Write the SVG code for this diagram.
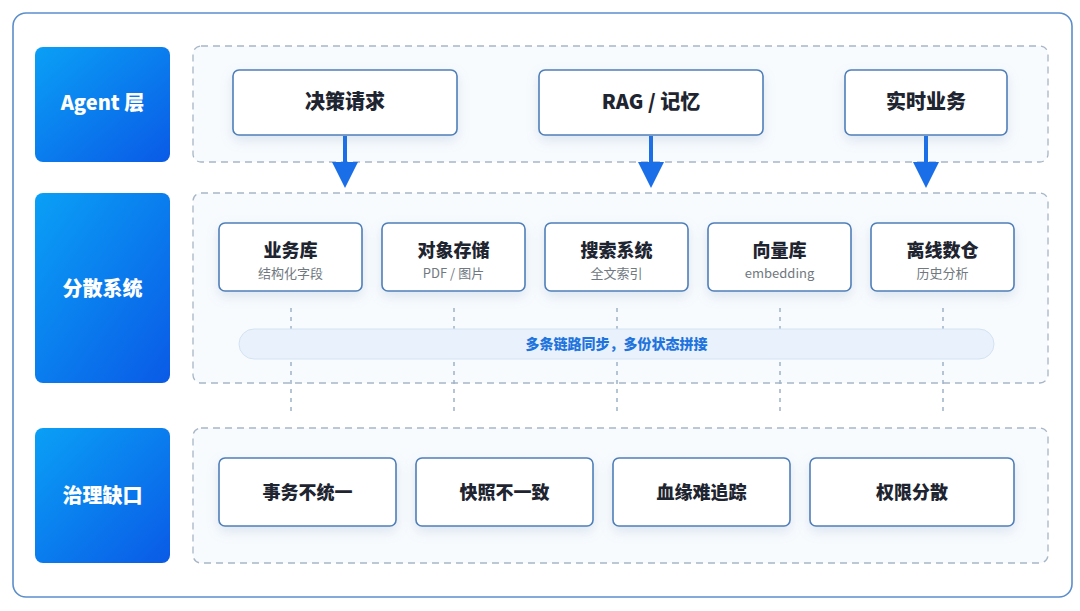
<svg xmlns="http://www.w3.org/2000/svg" width="1080" height="611" viewBox="0 0 1080 611">
<defs>
<linearGradient id="lab" x1="0" y1="0" x2="1" y2="1">
<stop offset="0" stop-color="#0aa0f6"/>
<stop offset="1" stop-color="#0a5ae6"/>
</linearGradient>
<filter id="sh" x="-20%" y="-30%" width="140%" height="170%">
<feDropShadow dx="0" dy="5" stdDeviation="6" flood-color="#5a7fb0" flood-opacity="0.18"/>
</filter>
</defs>
<style>
.lab{fill:url(#lab);}
.labt{font-family:"Noto Sans CJK SC","Noto Sans",sans-serif;font-weight:900;font-size:20px;fill:#fff;text-anchor:middle;dominant-baseline:central;}
.cont{fill:#f8fbfe;stroke:#a7b6c6;stroke-width:1.3;stroke-dasharray:7 5;}
.node{fill:#fff;stroke:#4f7fb8;stroke-width:1.6;filter:url(#sh);}
.t{font-family:"Noto Sans CJK SC","Noto Sans",sans-serif;font-weight:900;fill:#1e2530;text-anchor:middle;dominant-baseline:central;}
.t1{font-size:20px;}
.t2{font-size:18px;}
.sub{font-family:"Noto Sans CJK SC","Noto Sans",sans-serif;font-size:13px;fill:#707880;text-anchor:middle;dominant-baseline:central;}
.arr{stroke:#1a6fe8;stroke-width:4;fill:none;}
.ah{fill:#1a6fe8;}
.dot{stroke:#9fb3c8;stroke-width:1.5;stroke-dasharray:4 5;fill:none;}
</style>
<rect x="0" y="0" width="1080" height="611" fill="#ffffff"/>
<rect x="13" y="13" width="1059" height="584" rx="13" fill="#ffffff" stroke="#5b8ecb" stroke-width="1.6"/>

<g id="containers">
<rect class="cont" x="193" y="46" width="855" height="116" rx="8"/>
<rect class="cont" x="193" y="193" width="855" height="190" rx="8"/>
<rect class="cont" x="193" y="428" width="855" height="135" rx="8"/>
</g>

<g id="label-agent"><rect class="lab" x="35" y="47" width="135" height="115" rx="8"/><text class="labt" x="102.5" y="101">Agent 层</text></g>
<g id="label-dist"><rect class="lab" x="35" y="193" width="135" height="190" rx="8"/><text class="labt" x="102.5" y="287">分散系统</text></g>
<g id="label-gov"><rect class="lab" x="35" y="428" width="135" height="135" rx="8"/><text class="labt" x="102.5" y="494">治理缺口</text></g>

<g id="connectors">
<line class="dot" x1="291" y1="308" x2="291" y2="416"/>
<line class="dot" x1="454" y1="308" x2="454" y2="416"/>
<line class="dot" x1="617" y1="308" x2="617" y2="416"/>
<line class="dot" x1="780" y1="308" x2="780" y2="416"/>
<line class="dot" x1="943" y1="308" x2="943" y2="416"/>
<line class="arr" x1="345" y1="136" x2="345" y2="164"/>
<polygon class="ah" points="332,162 358,162 345,188"/>
<line class="arr" x1="651" y1="136" x2="651" y2="164"/>
<polygon class="ah" points="638,162 664,162 651,188"/>
<line class="arr" x1="926" y1="136" x2="926" y2="164"/>
<polygon class="ah" points="913,162 939,162 926,188"/>
</g>

<g id="n-decision"><rect class="node" x="233" y="70" width="224" height="65" rx="6"/><text class="t t1" x="345" y="100">决策请求</text></g>
<g id="n-rag"><rect class="node" x="539" y="70" width="224" height="65" rx="6"/><text class="t t1" x="651" y="100">RAG / 记忆</text></g>
<g id="n-realtime"><rect class="node" x="845" y="70" width="162" height="65" rx="6"/><text class="t t1" x="926" y="100">实时业务</text></g>

<g id="n-biz"><rect class="node" x="219" y="223" width="143" height="68" rx="6"/><text class="t t2" x="290.5" y="249">业务库</text><text class="sub" x="290.5" y="272">结构化字段</text></g>
<g id="n-obj"><rect class="node" x="382" y="223" width="143" height="68" rx="6"/><text class="t t2" x="453.5" y="249">对象存储</text><text class="sub" x="453.5" y="272">PDF / 图片</text></g>
<g id="n-search"><rect class="node" x="545" y="223" width="143" height="68" rx="6"/><text class="t t2" x="616.5" y="249">搜索系统</text><text class="sub" x="616.5" y="272">全文索引</text></g>
<g id="n-vector"><rect class="node" x="708" y="223" width="143" height="68" rx="6"/><text class="t t2" x="779.5" y="249">向量库</text><text class="sub" x="779.5" y="272">embedding</text></g>
<g id="n-dw"><rect class="node" x="871" y="223" width="143" height="68" rx="6"/><text class="t t2" x="942.5" y="249">离线数仓</text><text class="sub" x="942.5" y="272">历史分析</text></g>

<g id="n-sync"><rect x="239" y="329" width="755" height="30" rx="15" fill="#e9f2fc" stroke="#d3e2f3" stroke-width="1"/><text x="616.5" y="343" font-family="'Noto Sans CJK SC','Noto Sans',sans-serif" font-weight="900" font-size="14" fill="#1f74dd" text-anchor="middle" dominant-baseline="central">多条链路同步，多份状态拼接</text></g>

<g id="n-tx"><rect class="node" x="219" y="458" width="177" height="68" rx="6"/><text class="t t2" x="307.5" y="491">事务不统一</text></g>
<g id="n-snap"><rect class="node" x="416" y="458" width="177" height="68" rx="6"/><text class="t t2" x="504.5" y="491">快照不一致</text></g>
<g id="n-lineage"><rect class="node" x="613" y="458" width="177" height="68" rx="6"/><text class="t t2" x="701.5" y="491">血缘难追踪</text></g>
<g id="n-perm"><rect class="node" x="810" y="458" width="204" height="68" rx="6"/><text class="t t2" x="912" y="491">权限分散</text></g>
</svg>
